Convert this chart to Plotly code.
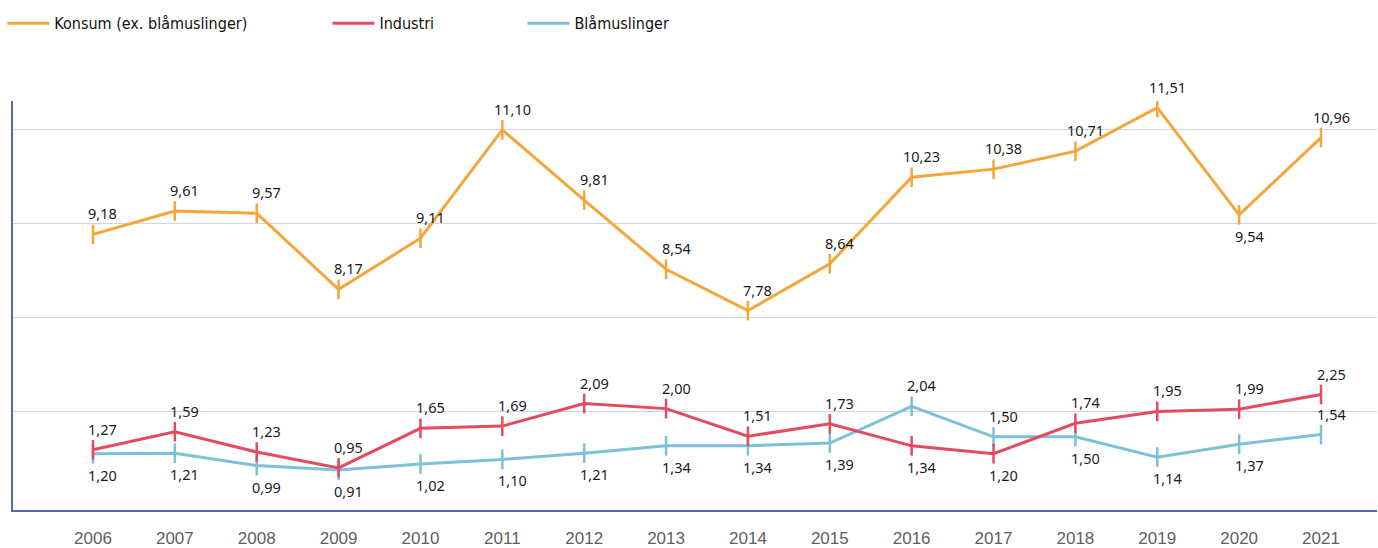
import plotly.graph_objects as go

years = list(range(2006, 2022))
konsum = [9.18, 9.61, 9.57, 8.17, 9.11, 11.10, 9.81, 8.54, 7.78, 8.64, 10.23, 10.38, 10.71, 11.51, 9.54, 10.96]
industri = [1.27, 1.59, 1.23, 0.95, 1.65, 1.69, 2.09, 2.00, 1.51, 1.73, 1.34, 1.20, 1.74, 1.95, 1.99, 2.25]
blaa = [1.20, 1.21, 0.99, 0.91, 1.02, 1.10, 1.21, 1.34, 1.34, 1.39, 2.04, 1.50, 1.50, 1.14, 1.37, 1.54]

# label side: +1 above, -1 below
konsum_side = [1, 1, 1, 1, 1, 1, 1, 1, 1, 1, 1, 1, 1, 1, -1, 1]
industri_side = [1, 1, 1, 1, 1, 1, 1, 1, 1, 1, -1, -1, 1, 1, 1, 1]
blaa_side = [-1, -1, -1, -1, -1, -1, -1, -1, -1, -1, 1, 1, -1, -1, -1, 1]

names = ["Konsum (ex. blåmuslinger)", "Industri", "Blåmuslinger"]
colors = ["#F5A63B", "#E54B60", "#7CC1D5"]

AXIS_COL = "#5B66A6"
GRID_COL = "#D2D2E2"
LABEL_FONT = dict(family="Noto Sans, Open Sans, sans-serif", size=14.5, color="#1A1A1A")

series = [
    (konsum, konsum_side, "y2", colors[0], names[0], "legend"),
    (industri, industri_side, "y", colors[1], names[1], "legend2"),
    (blaa, blaa_side, "y", colors[2], names[2], "legend3"),
]

fig = go.Figure()
annotations = []
# draw blue first, then red, then orange on top
for vals, sides, yax, col, name, leg in [series[2], series[1], series[0]]:
    fig.add_trace(go.Scatter(
        x=years, y=vals, yaxis=yax, mode="lines", name=name,
        line=dict(color=col, width=3), legend=leg, showlegend=True,
        hoverinfo="skip",
    ))
    fig.add_trace(go.Scatter(
        x=years, y=vals, yaxis=yax, mode="markers", showlegend=False,
        marker=dict(symbol="line-ns", size=14, color=col, line=dict(color=col, width=2.5)),
        hoverinfo="skip",
    ))
    for xv, v, s in zip(years, vals, sides):
        annotations.append(dict(
            x=xv, y=v, xref="x", yref=yax, text=f"{v:.2f}".replace(".", ","),
            showarrow=False, xshift=10, yshift=21 * s, font=LABEL_FONT,
        ))

legend_common = dict(
    orientation="h", yanchor="middle", xanchor="left", y=1.19,
    font=dict(family="Liberation Sans Narrow, DejaVu Sans Condensed, sans-serif", size=16, color="#111111"),
    bgcolor="rgba(0,0,0,0)", itemwidth=42, traceorder="normal",
)

fig.update_layout(
    width=1378, height=548,
    margin=dict(l=13, r=1, t=101, b=38, autoexpand=False),
    paper_bgcolor="white", plot_bgcolor="white",
    annotations=annotations,
    xaxis=dict(
        range=[2005.023, 2021.684], tickvals=years, ticktext=[str(y) for y in years],
        showgrid=False, zeroline=False, showline=True, linecolor=AXIS_COL, linewidth=1.5,
        ticks="", tickfont=dict(family="Liberation Sans, Arial, sans-serif", size=17, color="#5F5F5F"),
        ticklabelstandoff=12, automargin=False,
    ),
    yaxis=dict(
        range=[0.203, 7.452], tickvals=[1.951, 3.616, 5.281, 6.946],
        showticklabels=False, showgrid=True, gridcolor=GRID_COL, gridwidth=1,
        zeroline=False, showline=True, linecolor=AXIS_COL, linewidth=1.5, ticks="",
        automargin=False,
    ),
    yaxis2=dict(
        range=[4.116, 11.632], overlaying="y", side="right", visible=False,
        showgrid=False, zeroline=False, automargin=False,
    ),
    legend=dict(legend_common, x=-0.0078),
    legend2=dict(legend_common, x=0.2305),
    legend3=dict(legend_common, x=0.3735),
    showlegend=True,
)

fig.write_html(
    "out.html",
    config={"displayModeBar": False},
    post_script="document.body.style.margin='0px';document.body.style.overflow='hidden';",
)
